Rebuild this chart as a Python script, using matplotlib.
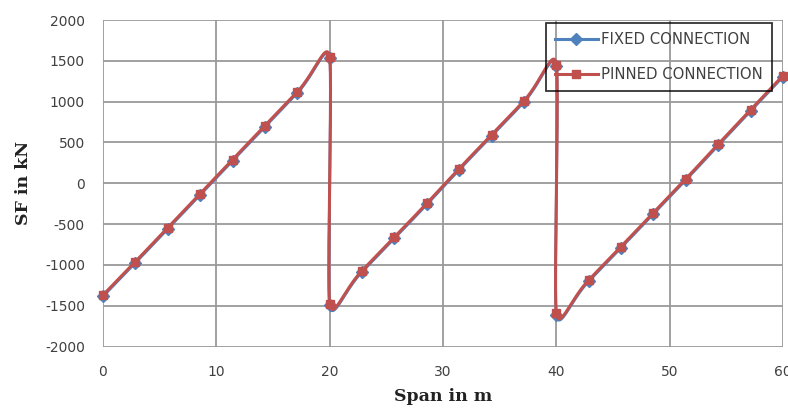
import numpy as np
import matplotlib
matplotlib.use("Agg")
import matplotlib.pyplot as plt
from matplotlib.lines import Line2D

plt.rcParams["axes.unicode_minus"] = False

# Data
span = [0, 2.86, 5.71, 8.57, 11.43, 14.29, 17.14, 20,
        20, 22.86, 25.71, 28.57, 31.43, 34.29, 37.14, 40,
        40, 42.86, 45.71, 48.57, 51.43, 54.29, 57.14, 60]
fixed_sf = [-1385, -975, -560, -145, 275, 690, 1105, 1530,
            -1495, -1085, -675, -260, 165, 580, 995, 1440,
            -1610, -1200, -790, -375, 40, 465, 885, 1305]
pinned_sf = [-1370, -960, -545, -130, 290, 705, 1120, 1545,
             -1480, -1070, -660, -245, 180, 595, 1010, 1455,
             -1595, -1185, -775, -360, 55, 480, 900, 1320]

xticks = [0, 10, 20, 30, 40, 50, 60]
yticks = [-2000, -1500, -1000, -500, 0, 500, 1000, 1500, 2000]

RED = "#C0504D"
BLUE = "#4F81BD"


def smooth(xs, ys, sx, sy, f=0.55, n=40):
    """Excel-like Bezier smoothing in scaled (screen-like) space."""
    P = np.column_stack([np.asarray(xs, float) * sx, np.asarray(ys, float) * sy])
    m = len(P)
    d = np.linalg.norm(np.diff(P, axis=0), axis=1)
    out = [P[0]]
    for i in range(m - 1):
        p1, p2 = P[i], P[i + 1]
        if i > 0:
            w = min(d[i - 1], d[i]) / (d[i - 1] + d[i])
            c1 = p1 + (p2 - P[i - 1]) * w * f
        else:
            c1 = p1 + (p2 - p1) * f * 0.3
        if i + 2 < m:
            w = min(d[i], d[i + 1]) / (d[i] + d[i + 1])
            c2 = p2 - (P[i + 2] - p1) * w * f
        else:
            c2 = p2 - (p2 - p1) * f * 0.3
        t = np.linspace(0, 1, n)[1:, None]
        seg = ((1 - t) ** 3) * p1 + 3 * ((1 - t) ** 2) * t * c1 + 3 * (1 - t) * t ** 2 * c2 + t ** 3 * p2
        out.extend(seg)
    out = np.array(out)
    return out[:, 0] / sx, out[:, 1] / sy


fig = plt.figure(figsize=(7.88, 4.17), dpi=100)
ax = fig.add_axes([0.1307, 0.169, 0.8630, 0.783])

sx = 680 / 60.0
sy = 326 / 4000.0

fx, fy = smooth(span, fixed_sf, sx, sy)
px, py = smooth(span, pinned_sf, sx, sy)

ax.plot(fx, fy, color=BLUE, lw=2.0, zorder=3, solid_capstyle="round")
ax.plot(span, fixed_sf, ls="none", marker="D", ms=6, color=BLUE, zorder=4, clip_on=False)
ax.plot(px, py, color=RED, lw=2.2, zorder=5, solid_capstyle="round")
ax.plot(span, pinned_sf, ls="none", marker="s", ms=6, color=RED, zorder=6, clip_on=False)

ax.set_xlim(0, 60)
ax.set_ylim(-2000, 2000)
ax.set_xticks(xticks)
ax.set_yticks(yticks)
ax.grid(True, color="#9a9a9a", lw=1.3)
ax.set_axisbelow(True)
for s in ax.spines.values():
    s.set_visible(False)
ax.tick_params(length=0, labelsize=10, colors="#404040", pad=13)
for lab in ax.get_xticklabels() + ax.get_yticklabels():
    lab.set_family("DejaVu Sans")

ax.set_xlabel("Span in m", family="DejaVu Serif", fontweight="bold", fontsize=12.5,
              color="#222222", labelpad=7)
ax.set_ylabel("SF in kN", family="DejaVu Serif", fontweight="bold", fontsize=12.5,
              color="#222222", labelpad=9)

handles = [
    Line2D([0], [0], color=BLUE, lw=2.2, marker="D", ms=6),
    Line2D([0], [0], color=RED, lw=2.2, marker="s", ms=6),
]
leg = fig.legend(handles, ["FIXED CONNECTION", "PINNED CONNECTION"],
                 loc="upper left", bbox_to_anchor=(546 / 788, 1 - 23 / 417),
                 frameon=True, fancybox=False, edgecolor="black", facecolor="none",
                 prop={"family": "DejaVu Sans", "size": 10.7},
                 handlelength=2.9, handletextpad=0.2, labelspacing=1.35,
                 borderpad=0.6, borderaxespad=0)
leg.get_frame().set_linewidth(1.3)
for t in leg.get_texts():
    t.set_color("#404040")

fig.savefig("out.png", dpi=100)
